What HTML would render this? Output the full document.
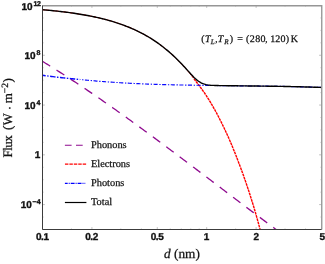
<!DOCTYPE html>
<html><head><meta charset="utf-8"><style>
html,body{margin:0;padding:0;background:#fff;}
svg{display:block;will-change:transform;text-rendering:geometricPrecision}
.tl text{font-family:"Liberation Sans",sans-serif;font-weight:bold;font-size:10px;fill:#111;stroke:#111;stroke-width:0.35px}
.tl text.sup{font-size:7px}
.sf{font-family:"Liberation Serif",serif;fill:#111;stroke:#111;stroke-width:0.25px}
</style></head><body>
<svg width="325" height="264" viewBox="0 0 325 264">
<rect width="325" height="264" fill="#fff"/>
<g fill="none" stroke-linecap="butt">
<path d="M42.50,61.37 L44.00,62.28 L45.50,63.20 L47.00,64.12 L48.50,65.05 L50.00,65.98 L51.50,66.91 L53.00,67.85 L54.50,68.79 L56.00,69.73 L57.50,70.68 L59.00,71.63 L60.50,72.59 L62.00,73.55 L63.50,74.51 L65.00,75.47 L66.50,76.44 L68.00,77.42 L69.50,78.39 L71.00,79.37 L72.50,80.35 L74.00,81.34 L75.50,82.33 L77.00,83.32 L78.50,84.31 L80.00,85.31 L81.50,86.31 L83.00,87.31 L84.50,88.32 L86.00,89.33 L87.50,90.34 L89.00,91.36 L90.50,92.38 L92.00,93.40 L93.50,94.42 L95.00,95.45 L96.50,96.48 L98.00,97.51 L99.50,98.55 L101.00,99.58 L102.50,100.62 L104.00,101.67 L105.50,102.71 L107.00,103.76 L108.50,104.81 L110.00,105.86 L111.50,106.91 L113.00,107.97 L114.50,109.03 L116.00,110.09 L117.50,111.16 L119.00,112.22 L120.50,113.29 L122.00,114.36 L123.50,115.43 L125.00,116.51 L126.50,117.58 L128.00,118.66 L129.50,119.74 L131.00,120.83 L132.50,121.91 L134.00,123.00 L135.50,124.09 L137.00,125.18 L138.50,126.27 L140.00,127.36 L141.50,128.46 L143.00,129.55 L144.50,130.65 L146.00,131.75 L147.50,132.85 L149.00,133.96 L150.50,135.06 L152.00,136.17 L153.50,137.27 L155.00,138.38 L156.50,139.49 L158.00,140.61 L159.50,141.72 L161.00,142.83 L162.50,143.95 L164.00,145.06 L165.50,146.18 L167.00,147.30 L168.50,148.42 L170.00,149.54 L171.50,150.67 L173.00,151.79 L174.50,152.91 L176.00,154.04 L177.50,155.16 L179.00,156.29 L180.50,157.42 L182.00,158.55 L183.50,159.68 L185.00,160.81 L186.50,161.94 L188.00,163.07 L189.50,164.20 L191.00,165.33 L192.50,166.47 L194.00,167.60 L195.50,168.73 L197.00,169.87 L198.50,171.00 L200.00,172.14 L201.50,173.28 L203.00,174.41 L204.50,175.55 L206.00,176.69 L207.50,177.82 L209.00,178.96 L210.50,180.10 L212.00,181.23 L213.50,182.37 L215.00,183.51 L216.50,184.65 L218.00,185.78 L219.50,186.92 L221.00,188.06 L222.50,189.20 L224.00,190.33 L225.50,191.47 L227.00,192.61 L228.50,193.75 L230.00,194.88 L231.50,196.02 L233.00,197.15 L234.50,198.29 L236.00,199.42 L237.50,200.56 L239.00,201.69 L240.50,202.83 L242.00,203.96 L243.50,205.09 L245.00,206.22 L246.50,207.36 L248.00,208.49 L249.50,209.62 L251.00,210.75 L252.50,211.87 L254.00,213.00 L255.50,214.13 L257.00,215.25 L258.50,216.38 L260.00,217.50 L261.50,218.63 L263.00,219.75 L264.50,220.87 L266.00,221.99 L267.50,223.11 L269.00,224.22 L270.50,225.34 L272.00,226.46 L273.50,227.57 L275.00,228.68 L276.10,229.50" stroke="#8f0a8f" stroke-width="1.3" stroke-dasharray="9.2 7.54" stroke-dashoffset="0.2"/>
<path d="M42.50,9.72 L44.00,9.84 L45.50,9.98 L47.00,10.11 L48.50,10.25 L50.00,10.40 L51.50,10.54 L53.00,10.69 L54.50,10.85 L56.00,11.01 L57.50,11.17 L59.00,11.33 L60.50,11.51 L62.00,11.68 L63.50,11.86 L65.00,12.05 L66.50,12.24 L68.00,12.43 L69.50,12.63 L71.00,12.84 L72.50,13.05 L74.00,13.27 L75.50,13.49 L77.00,13.72 L78.50,13.96 L80.00,14.20 L81.50,14.45 L83.00,14.70 L84.50,14.96 L86.00,15.23 L87.50,15.51 L89.00,15.79 L90.50,16.08 L92.00,16.38 L93.50,16.69 L95.00,17.01 L96.50,17.34 L98.00,17.67 L99.50,18.02 L101.00,18.37 L102.50,18.74 L104.00,19.12 L105.50,19.51 L107.00,19.91 L108.50,20.33 L110.00,20.75 L111.50,21.19 L113.00,21.64 L114.50,22.10 L116.00,22.58 L117.50,23.07 L119.00,23.57 L120.50,24.09 L122.00,24.62 L123.50,25.17 L125.00,25.73 L126.50,26.31 L128.00,26.90 L129.50,27.51 L131.00,28.14 L132.50,28.79 L134.00,29.45 L135.50,30.14 L137.00,30.84 L138.50,31.57 L140.00,32.31 L141.50,33.08 L143.00,33.87 L144.50,34.68 L146.00,35.52 L147.50,36.38 L149.00,37.26 L150.50,38.17 L152.00,39.12 L153.50,40.09 L155.00,41.09 L156.50,42.12 L158.00,43.18 L159.50,44.27 L161.00,45.39 L162.50,46.54 L164.00,47.72 L165.50,48.93 L167.00,50.16 L168.50,51.42 L170.00,52.71 L171.50,54.04 L173.00,55.41 L174.50,56.81 L176.00,58.25 L177.50,59.73 L179.00,61.25 L180.50,62.81 L182.00,64.41 L183.50,66.06 L185.00,67.74 L186.50,69.48 L188.00,71.25 L189.50,73.08 L191.00,74.95 L192.50,76.87 L194.00,78.83" stroke="#ff0000" stroke-width="1.0" stroke-dasharray="2.6 0.85"/>
<path d="M194.00,78.83 L195.50,80.80 L197.00,82.72 L198.50,84.67 L200.00,86.68 L201.50,88.73 L203.00,90.82 L204.50,92.97 L206.00,95.23 L207.50,97.58 L209.00,99.99 L210.50,102.45 L212.00,104.97 L213.50,107.54 L215.00,110.18 L216.50,112.95 L218.00,115.79 L219.50,118.70 L221.00,121.67 L222.50,124.71 L224.00,127.81 L225.50,130.99 L227.00,134.23 L228.50,137.57 L230.00,141.01 L231.50,144.54 L233.00,148.14 L234.50,151.83 L236.00,155.59 L237.50,159.45 L239.00,163.39 L240.50,167.40 L242.00,171.45 L243.50,175.60 L245.00,179.85 L246.50,184.21 L248.00,188.67 L249.50,193.24 L251.00,197.94 L252.50,202.76 L254.00,207.72 L255.50,212.82 L257.00,218.08 L258.50,223.51 L260.00,229.11 L260.10,229.50" stroke="#ff0000" stroke-width="1.4" stroke-dasharray="2.7 0.65"/>
<path d="M42.50,75.30 L44.00,75.51 L45.50,75.71 L47.00,75.91 L48.50,76.10 L50.00,76.30 L51.50,76.49 L53.00,76.68 L54.50,76.86 L56.00,77.04 L57.50,77.22 L59.00,77.39 L60.50,77.56 L62.00,77.72 L63.50,77.88 L65.00,78.04 L66.50,78.19 L68.00,78.34 L69.50,78.49 L71.00,78.64 L72.50,78.78 L74.00,78.93 L75.50,79.07 L77.00,79.21 L78.50,79.36 L79.90,79.49" stroke="#0a0aff" stroke-width="1.4" stroke-dasharray="5.4 1.5 1.5 1.5" stroke-dashoffset="2.2"/>
<path d="M80.00,79.50 L81.50,79.64 L83.00,79.79 L84.50,79.94 L86.00,80.08 L87.50,80.23 L89.00,80.37 L90.50,80.52 L92.00,80.66 L93.50,80.80 L95.00,80.93 L96.50,81.06 L98.00,81.19 L99.50,81.31 L101.00,81.43 L102.50,81.54 L104.00,81.65 L105.50,81.76 L107.00,81.87 L108.50,81.97 L110.00,82.07 L111.50,82.17 L113.00,82.27 L114.50,82.36 L116.00,82.46 L117.50,82.55 L119.00,82.64 L120.50,82.73 L122.00,82.82 L123.50,82.90 L125.00,82.99 L126.50,83.07 L128.00,83.16 L129.50,83.24 L131.00,83.32 L132.50,83.39 L134.00,83.47 L135.50,83.54 L137.00,83.61 L138.50,83.68 L140.00,83.75 L141.50,83.82 L143.00,83.88 L144.50,83.94 L146.00,84.01 L147.50,84.07 L149.00,84.13 L150.50,84.18 L152.00,84.24 L153.50,84.29 L155.00,84.35 L156.50,84.39 L158.00,84.44 L159.50,84.49 L161.00,84.53 L162.50,84.57 L164.00,84.61 L165.50,84.65 L167.00,84.68 L168.50,84.72 L170.00,84.75 L171.50,84.79 L173.00,84.82 L174.50,84.85 L176.00,84.88 L177.50,84.92 L179.00,84.95 L180.50,84.97 L182.00,85.00 L183.50,85.03 L185.00,85.06 L186.50,85.09 L188.00,85.11 L189.50,85.14 L191.00,85.17 L192.50,85.19 L194.00,85.22 L195.50,85.24 L197.00,85.27 L198.50,85.29 L200.00,85.31 L201.50,85.34 L203.00,85.36 L204.50,85.38 L206.00,85.40 L207.50,85.42 L209.00,85.45 L210.50,85.47 L212.00,85.49 L213.50,85.51 L215.00,85.53 L216.50,85.55 L218.00,85.57 L219.50,85.59 L221.00,85.61 L222.50,85.63 L224.00,85.65 L225.50,85.67 L227.00,85.69 L228.50,85.71 L230.00,85.73 L231.50,85.75 L233.00,85.77 L234.50,85.79 L236.00,85.80 L237.50,85.82 L239.00,85.84 L240.50,85.85 L242.00,85.87 L243.50,85.89 L245.00,85.91 L246.50,85.92 L248.00,85.94 L249.50,85.96 L251.00,85.97 L252.50,85.99 L254.00,86.01 L255.50,86.03 L257.00,86.04 L258.50,86.06 L260.00,86.08 L261.50,86.10 L263.00,86.12 L264.50,86.14 L266.00,86.16 L267.50,86.18 L269.00,86.20 L270.50,86.22 L272.00,86.24 L273.50,86.26 L275.00,86.28 L276.50,86.31 L278.00,86.33 L279.50,86.35 L281.00,86.38 L282.50,86.41 L284.00,86.43 L285.50,86.46 L287.00,86.49 L288.50,86.52 L290.00,86.55 L291.50,86.58 L293.00,86.62 L294.50,86.65 L296.00,86.69 L297.50,86.73 L299.00,86.77 L300.50,86.81 L302.00,86.85 L303.50,86.89 L305.00,86.94 L306.50,86.98 L308.00,87.02 L309.50,87.07 L311.00,87.12 L312.50,87.16 L314.00,87.21 L315.50,87.26 L317.00,87.30 L318.50,87.35 L320.00,87.40 L321.50,87.45" stroke="#0a0aff" stroke-width="1.15" stroke-dasharray="4.1 1.7 1.3 1.5" stroke-dashoffset="3.7"/>
<path d="M42.50,9.72 L44.00,9.84 L45.50,9.98 L47.00,10.11 L48.50,10.25 L50.00,10.40 L51.50,10.54 L53.00,10.69 L54.50,10.85 L56.00,11.01 L57.50,11.17 L59.00,11.33 L60.50,11.51 L62.00,11.68 L63.50,11.86 L65.00,12.05 L66.50,12.24 L68.00,12.43 L69.50,12.63 L71.00,12.84 L72.50,13.05 L74.00,13.27 L75.50,13.49 L77.00,13.72 L78.50,13.96 L80.00,14.20 L81.50,14.45 L83.00,14.70 L84.50,14.96 L86.00,15.23 L87.50,15.51 L89.00,15.79 L90.50,16.08 L92.00,16.38 L93.50,16.69 L95.00,17.01 L96.50,17.34 L98.00,17.67 L99.50,18.02 L101.00,18.37 L102.50,18.74 L104.00,19.12 L105.50,19.51 L107.00,19.91 L108.50,20.33 L110.00,20.75 L111.50,21.19 L113.00,21.64 L114.50,22.10 L116.00,22.58 L117.50,23.07 L119.00,23.57 L120.50,24.09 L122.00,24.62 L123.50,25.17 L125.00,25.73 L126.50,26.31 L128.00,26.90 L129.50,27.51 L131.00,28.14 L132.50,28.79 L134.00,29.45 L135.50,30.14 L137.00,30.84 L138.50,31.57 L140.00,32.31 L141.50,33.08 L143.00,33.87 L144.50,34.68 L146.00,35.52 L147.50,36.38 L149.00,37.26 L150.50,38.17 L152.00,39.12 L153.50,40.09 L155.00,41.09 L156.50,42.12 L158.00,43.18 L159.50,44.26 L161.00,45.38 L162.50,46.53 L164.00,47.72 L165.50,48.93 L167.00,50.15 L168.50,51.41 L170.00,52.70 L171.50,54.02 L173.00,55.38 L174.50,56.78 L176.00,58.21 L177.50,59.68 L179.00,61.18 L180.50,62.72 L182.00,64.29 L183.50,65.90 L185.00,67.53 L186.50,69.18 L188.00,70.85 L189.50,72.53 L191.00,74.19 L192.50,75.82 L194.00,77.39 L195.50,78.83 L197.00,80.10 L198.50,81.23 L200.00,82.21 L201.50,83.02 L203.00,83.68 L204.50,84.19 L206.00,84.59 L207.50,84.88 L209.00,85.09 L210.50,85.24 L212.00,85.34 L213.50,85.42 L215.00,85.47 L216.50,85.52 L218.00,85.55 L219.50,85.58 L221.00,85.61 L222.50,85.63 L224.00,85.65 L225.50,85.67 L227.00,85.69 L228.50,85.71 L230.00,85.73 L231.50,85.75 L233.00,85.77 L234.50,85.79 L236.00,85.80 L237.50,85.82 L239.00,85.84 L240.50,85.85 L242.00,85.87 L243.50,85.89 L245.00,85.91 L246.50,85.92 L248.00,85.94 L249.50,85.96 L251.00,85.97 L252.50,85.99 L254.00,86.01 L255.50,86.03 L257.00,86.04 L258.50,86.06 L260.00,86.08 L261.50,86.10 L263.00,86.12 L264.50,86.14 L266.00,86.16 L267.50,86.18 L269.00,86.20 L270.50,86.22 L272.00,86.24 L273.50,86.26 L275.00,86.28 L276.50,86.31 L278.00,86.33 L279.50,86.35 L281.00,86.38 L282.50,86.41 L284.00,86.43 L285.50,86.46 L287.00,86.49 L288.50,86.52 L290.00,86.55 L291.50,86.58 L293.00,86.62 L294.50,86.65 L296.00,86.69 L297.50,86.73 L299.00,86.77 L300.50,86.81 L302.00,86.85 L303.50,86.89 L305.00,86.94 L306.50,86.98 L308.00,87.02 L309.50,87.07 L311.00,87.12 L312.50,87.16 L314.00,87.21 L315.50,87.26 L317.00,87.30 L318.50,87.35 L320.00,87.40 L321.50,87.45" stroke="#000" stroke-width="1.4"/>
</g>
<g stroke="#a8a8a8" stroke-width="0.7" fill="none"><path d="M42.50,229.5 v-2.4 M42.50,5.5 v2.4"/><path d="M91.93,229.5 v-2.4 M91.93,5.5 v2.4"/><path d="M157.27,229.5 v-2.4 M157.27,5.5 v2.4"/><path d="M206.70,229.5 v-2.4 M206.70,5.5 v2.4"/><path d="M256.13,229.5 v-2.4 M256.13,5.5 v2.4"/><path d="M321.47,229.5 v-2.4 M321.47,5.5 v2.4"/><path d="M42.5,204.60 h2.4 M321.5,204.60 h-2.4"/><path d="M42.5,154.83 h2.4 M321.5,154.83 h-2.4"/><path d="M42.5,105.05 h2.4 M321.5,105.05 h-2.4"/><path d="M42.5,55.28 h2.4 M321.5,55.28 h-2.4"/><path d="M42.5,5.50 h2.4 M321.5,5.50 h-2.4"/></g><g stroke="#c4c4c4" stroke-width="0.6" fill="none"><path d="M71.41,229.5 v-1.4 M71.41,5.5 v1.4"/><path d="M120.84,229.5 v-1.4 M120.84,5.5 v1.4"/><path d="M141.36,229.5 v-1.4 M141.36,5.5 v1.4"/><path d="M170.27,229.5 v-1.4 M170.27,5.5 v1.4"/><path d="M181.27,229.5 v-1.4 M181.27,5.5 v1.4"/><path d="M190.79,229.5 v-1.4 M190.79,5.5 v1.4"/><path d="M199.19,229.5 v-1.4 M199.19,5.5 v1.4"/><path d="M235.61,229.5 v-1.4 M235.61,5.5 v1.4"/><path d="M285.04,229.5 v-1.4 M285.04,5.5 v1.4"/><path d="M305.56,229.5 v-1.4 M305.56,5.5 v1.4"/><path d="M42.5,229.49 h1.4 M321.5,229.49 h-1.4"/><path d="M42.5,217.05 h1.4 M321.5,217.05 h-1.4"/><path d="M42.5,192.16 h1.4 M321.5,192.16 h-1.4"/><path d="M42.5,179.72 h1.4 M321.5,179.72 h-1.4"/><path d="M42.5,167.27 h1.4 M321.5,167.27 h-1.4"/><path d="M42.5,142.38 h1.4 M321.5,142.38 h-1.4"/><path d="M42.5,129.94 h1.4 M321.5,129.94 h-1.4"/><path d="M42.5,117.50 h1.4 M321.5,117.50 h-1.4"/><path d="M42.5,92.61 h1.4 M321.5,92.61 h-1.4"/><path d="M42.5,80.16 h1.4 M321.5,80.16 h-1.4"/><path d="M42.5,67.72 h1.4 M321.5,67.72 h-1.4"/><path d="M42.5,42.83 h1.4 M321.5,42.83 h-1.4"/><path d="M42.5,30.39 h1.4 M321.5,30.39 h-1.4"/><path d="M42.5,17.94 h1.4 M321.5,17.94 h-1.4"/></g>
<path d="M42.5,5.75 H321.75 V229.5" fill="none" stroke="#969696" stroke-width="1.35"/>
<path d="M42.5,5.5 V229.5 H321.5" fill="none" stroke="#3c3c3c" stroke-width="1"/>
<g class="tl"><text x="42.25" y="240" text-anchor="middle" letter-spacing="-0.5">0.1</text><text x="91.53" y="240" text-anchor="middle" letter-spacing="-0.5">0.2</text><text x="157.02" y="240" text-anchor="middle" letter-spacing="-0.5">0.5</text><text x="206.50" y="240" text-anchor="middle">1</text><text x="256.23" y="240" text-anchor="middle">2</text><text x="322.17" y="240" text-anchor="middle">5</text><text x="32.70" y="9.95" text-anchor="end">10</text><text class="sup" x="33.40" y="5.95" letter-spacing="-0.4">12</text><text x="35.70" y="58.98" text-anchor="end">10</text><text class="sup" x="36.40" y="54.98">8</text><text x="35.70" y="108.75" text-anchor="end">10</text><text class="sup" x="36.40" y="104.75">4</text><text x="31.90" y="208.30" text-anchor="end">10</text><text class="sup" x="32.60" y="204.30">−4</text><text x="40.2" y="158.03" text-anchor="end">1</text></g>
<g fill="none">
<path d="M64.9,145.3 H85.8" stroke="#8f0a8f" stroke-width="1.1" stroke-dasharray="6.7 4.4"/>
<path d="M64.95,164.05 H86.12" stroke="#ff0000" stroke-width="1.2" stroke-dasharray="3.45 0.98"/>
<path d="M64.9,183.35 H85.25" stroke="#0000ff" stroke-width="1.15" stroke-dasharray="3.9 1 1 1" stroke-dashoffset="1.1"/>
<path d="M64.9,202.5 H86.4" stroke="#000" stroke-width="1.2"/>
</g>
<g class="sf" font-size="10.35px">
<text x="91.0" y="147.8">Phonons</text>
<text x="91.0" y="167">Electrons</text>
<text x="91.0" y="186">Photons</text>
<text x="91.0" y="205">Total</text>
</g>
<g class="sf" font-size="10px" id="ann"><text x="201.2" y="41.6">(</text><text x="205.0" y="41.6" font-style="italic">T</text><text x="210.8" y="43.6" font-style="italic" font-size="7px">L</text><text x="215.3" y="41.6" font-size="9px">,</text><text x="217.8" y="41.6" font-style="italic">T</text><text x="224.3" y="43.6" font-style="italic" font-size="7px">R</text><text x="229.8" y="41.6">)</text><text x="237.2" y="41.6">=</text><text x="246.0" y="41.6" letter-spacing="0.4">(280</text><text x="265.3" y="41.6" font-size="9px">,</text><text x="270.2" y="41.6" letter-spacing="0.15">120)</text><text x="290.7" y="41.6">K</text></g>
<g class="sf" font-size="13px">
<text x="164.0" y="257.8" font-size="13.3px"><tspan font-style="italic">d</tspan> (nm)</text>
<text transform="translate(12.4,157.5) rotate(-90)"><tspan x="0" letter-spacing="-0.55">Flux</tspan><tspan x="27.6">(W</tspan><tspan x="47.3" dy="1.2">·</tspan><tspan x="54.2" dy="-1.2">m</tspan><tspan x="64.3" font-size="9.6px" dy="-4.6">−2</tspan><tspan x="75" dy="4.6">)</tspan></text>
</g>
</svg>
</body></html>
